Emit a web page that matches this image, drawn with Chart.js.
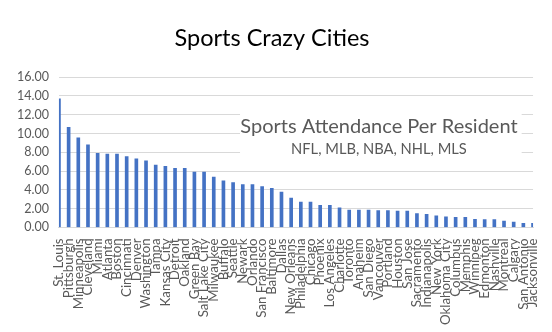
<!DOCTYPE html>
<html>
<head>
<meta charset="utf-8">
<script src="https://cdn.jsdelivr.net/npm/chart.js@4.4.0/dist/chart.umd.min.js"></script>
<style>
  body { margin: 0; background: #fff; }
  #wrap { width: 552px; height: 332px; position: relative; }
</style>
</head>
<body>
<div id="wrap"><canvas id="chart"></canvas></div>
<script>
const cities = [
  'St. Louis', 'Pittsburgh', 'Minneapolis', 'Cleveland', 'Miami', 'Atlanta', 'Boston',
  'Cincinnati', 'Denver', 'Washington', 'Tampa', 'Kansas City', 'Detroit', 'Oakland',
  'Green Bay', 'Salt Lake City', 'Milwaukee', 'Buffalo', 'Seattle', 'Newark', 'Orlando',
  'San Francisco', 'Baltimore', 'Dallas', 'New Orleans', 'Philadelphia', 'Chicago',
  'Phoenix', 'Los Angeles', 'Charlotte', 'Toronto', 'Anaheim', 'San Diego', 'Vancouver',
  'Portland', 'Houston', 'San Jose', 'Sacramento', 'Indianapolis', 'New York',
  'Oklahoma City', 'Columbus', 'Memphis', 'Winnipeg', 'Edmonton', 'Nashville',
  'Montreal', 'Calgary', 'San Antonio', 'Jacksonville'
];

const attendance = [
  13.70, 10.65, 9.55, 8.80, 7.90, 7.80, 7.80,
  7.55, 7.30, 7.10, 6.65, 6.50, 6.30, 6.30,
  5.90, 5.90, 5.35, 4.97, 4.76, 4.55, 4.55,
  4.34, 4.16, 3.75, 3.12, 2.70, 2.70,
  2.35, 2.35, 2.07, 1.83, 1.83, 1.83, 1.80,
  1.80, 1.73, 1.73, 1.48, 1.38, 1.23,
  1.13, 1.06, 1.06, 0.86, 0.83, 0.83,
  0.68, 0.57, 0.44, 0.44
];

const yTicks = [0, 2, 4, 6, 8, 10, 12, 14, 16];

const chartTitle = 'Sports Crazy Cities';
const noteTitle = 'Sports Attendance Per Resident';
const noteSub = 'NFL, MLB, NBA, NHL, MLS';

// text box in the middle of the plot, blanks out the grid behind it
const notePlugin = {
  id: 'note',
  afterDraw(chart) {
    const ctx = chart.ctx;
    const a = chart.chartArea;
    const w = a.right - a.left;
    const cx = a.left + w * 0.675;
    ctx.save();
    ctx.fillStyle = '#fff';
    ctx.fillRect(a.left + w * 0.382, 104, w * 0.594, 55);
    ctx.fillStyle = '#595959';
    ctx.textAlign = 'center';
    ctx.textBaseline = 'middle';
    ctx.font = '20px Lato';
    ctx.fillText(noteTitle, cx, 127);
    ctx.font = '14.7px Lato';
    ctx.fillText(noteSub, cx, 149);
    ctx.restore();
  }
};

new Chart(document.getElementById('chart'), {
  type: 'bar',
  data: {
    labels: cities,
    datasets: [{
      data: attendance,
      backgroundColor: '#4472C4',
      barThickness: 3
    }]
  },
  options: {
    responsive: true,
    maintainAspectRatio: false,
    animation: false,
    layout: { padding: { left: 7, right: 15, top: 0, bottom: 4 } },
    plugins: {
      legend: { display: false },
      tooltip: { enabled: false },
      title: {
        display: true,
        text: chartTitle,
        color: '#000',
        font: { family: 'Lato', size: 23.5, weight: 'normal' },
        padding: { top: 24, bottom: 25 }
      }
    },
    scales: {
      x: {
        offset: false,
        grid: { display: false },
        border: { color: '#d9d9d9' },
        ticks: {
          autoSkip: false,
          maxRotation: 90,
          minRotation: 90,
          padding: 3,
          color: '#595959',
          font: { family: 'Lato', size: 13.3 }
        }
      },
      y: {
        min: 0,
        max: 16,
        afterBuildTicks(scale) {
          scale.ticks = yTicks.map(v => ({ value: v }));
        },
        grid: { color: '#d9d9d9', drawTicks: false },
        border: { display: false },
        ticks: {
          padding: 10,
          color: '#595959',
          font: { family: 'Lato', size: 12.5 },
          callback: v => v.toFixed(2)
        }
      }
    }
  },
  plugins: [notePlugin]
});
</script>
</body>
</html>
